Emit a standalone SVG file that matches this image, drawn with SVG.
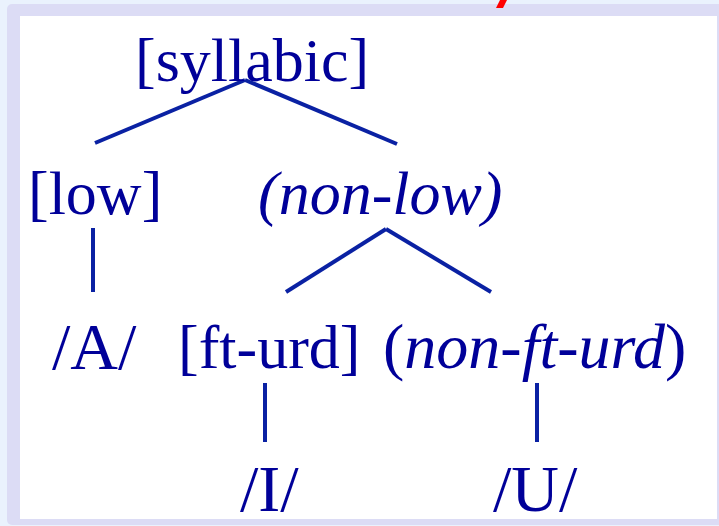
<svg xmlns="http://www.w3.org/2000/svg" width="719" height="526" viewBox="0 0 719 526">
<style>
.t{font-family:"Liberation Serif","Times New Roman",serif;font-size:62px;fill:#000099}
.b{font-size:66px}
.m{font-size:64px}
.i{font-style:italic}
.c line{stroke:#0A21A3;stroke-width:4;stroke-linecap:butt}
</style>
<rect x="0" y="0" width="719" height="526" fill="#EAF2FD"/>
<rect x="7" y="4" width="720" height="521" rx="5" fill="#DCDCF5"/>
<rect x="20" y="16" width="697" height="503" fill="#FFFFFF"/>
<polygon points="500,0 507,0 503,8 496,8" fill="#FF0000"/>
<g class="c" id="connectors">
<line x1="245" y1="80" x2="95" y2="143"/>
<line x1="245" y1="80" x2="397" y2="144"/>
<line x1="93" y1="228" x2="93" y2="292"/>
<line x1="386" y1="229" x2="286" y2="292"/>
<line x1="386" y1="229" x2="491" y2="292"/>
<line x1="265" y1="383" x2="265" y2="442"/>
<line x1="537" y1="383" x2="537" y2="442"/>
</g>
<g id="syllabic"><text class="t" x="135" y="81">[syllabic]</text></g>
<g id="low"><text class="t" x="28" y="214">[low]</text></g>
<g id="nonlow"><text class="t i" x="258" y="214">(non-low)</text></g>
<g id="A"><text class="t b" x="52" y="369">/A/</text></g>
<g id="fturd"><text class="t" x="178" y="368">[ft-urd]</text></g>
<g id="nonfturd"><text class="t m" x="383" y="368">(<tspan class="i">non-ft-urd</tspan>)</text></g>
<g id="I"><text class="t b" x="240" y="511">/I/</text></g>
<g id="U"><text class="t b" x="493" y="511">/U/</text></g>
</svg>
